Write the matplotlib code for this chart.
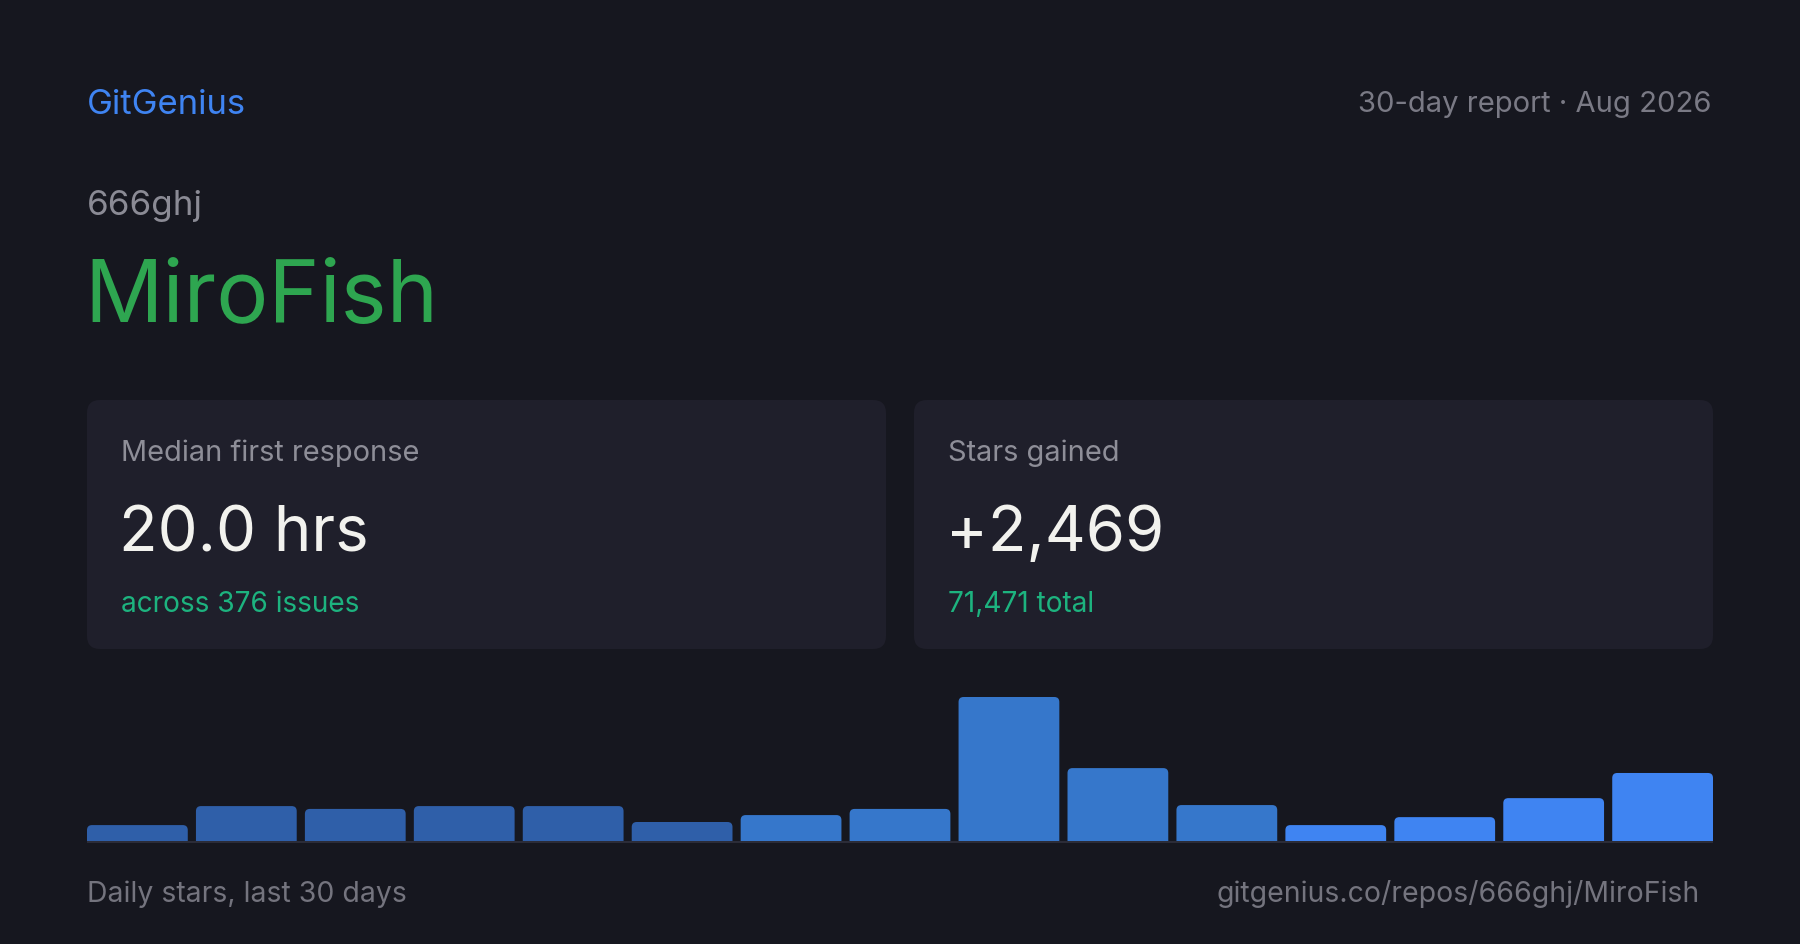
import matplotlib
matplotlib.use("Agg")
import matplotlib.pyplot as plt
from matplotlib.patches import FancyBboxPatch

# ---- data ----
brand = "GitGenius"
report_label = "30-day report · Aug 2026"
owner = "666ghj"
repo = "MiroFish"
card_titles = ["Median first response", "Stars gained"]
card_values = ["20.0 hrs", "+2,469"]
card_notes = ["across 376 issues", "71,471 total"]
daily_stars = [62, 136, 125, 136, 136, 74, 101, 125, 561, 284, 140, 62, 93, 167, 265]
footer_left = "Daily stars, last 30 days"
footer_right = "gitgenius.co/repos/666ghj/MiroFish"

BG = "#16171f"
CARD = "#1f1f2b"
W, H = 1800, 945
plt.rcParams['font.family'] = ['Inter', 'DejaVu Sans']

fig = plt.figure(figsize=(W / 100, H / 100), dpi=100, facecolor=BG)
ax0 = fig.add_axes([0, 0, 1, 1])
ax0.set_xlim(0, W)
ax0.set_ylim(H, 0)
ax0.axis('off')
ax0.set_facecolor(BG)

PT = 72 / 100  # px -> pt

# header
ax0.text(87, 114, brand, color="#3f84f2", fontsize=34.7 * PT, va='baseline', ha='left')
ax0.text(1712, 112, report_label, color="#7a7a85", fontsize=29.2 * PT, va='baseline', ha='right')
ax0.text(87, 215, owner, color="#8b8b95", fontsize=35 * PT, va='baseline', ha='left')
ax0.text(84, 322, repo, color="#2ea650", fontsize=87 * PT, va='baseline', ha='left')

# cards
card_x = [87, 914]
card_w = 799
card_top, card_h = 401, 249
for i in range(2):
    x0 = card_x[i]
    ax0.add_patch(FancyBboxPatch((x0 + 13, card_top + 13), card_w - 26, card_h - 26,
                                 boxstyle="round,pad=13", facecolor=CARD,
                                 edgecolor='none'))
    ax0.text(x0 + 34, 461, card_titles[i], color="#8e8e98", fontsize=29 * PT,
             va='baseline', ha='left')
    ax0.text(x0 + 32, 551, card_values[i], color="#f2f2ee", fontsize=63.5 * PT,
             va='baseline', ha='left')
    ax0.text(x0 + 34, 612, card_notes[i], color="#1db37f", fontsize=28 * PT,
             va='baseline', ha='left')

# baseline line
ax0.plot([87, 1713], [843, 843], color="#2b2c38", lw=2 * PT, solid_capstyle='butt')

# footer
ax0.text(87, 902, footer_left, color="#74747e", fontsize=28.4 * PT, va='baseline', ha='left')
ax0.text(1700, 902, footer_right, color="#74747e", fontsize=28.4 * PT, va='baseline', ha='right')

# bars
left, right, bottom, top = 87, 1713, 842, 698
axb = fig.add_axes([left / W, 1 - bottom / H, (right - left) / W, (bottom - top) / H])
axb.set_facecolor('none')
axb.axis('off')
n = len(daily_stars)
bw = 0.925
axb.set_xlim(-bw / 2, n - 1 + bw / 2)
ymax = max(daily_stars)
axb.set_ylim(0, ymax)

colors = ["#2f5fa9"] * 6 + ["#3677cb"] * 5 + ["#3f84f2"] * 4
bars = axb.bar(range(n), daily_stars, width=bw, color=colors)

# rounded top corners
px_x = (n - 1 + bw) / (right - left)
px_y = ymax / (bottom - top)
r_px = 5
for b, c in zip(bars, colors):
    x, w, h = b.get_x(), b.get_width(), b.get_height()
    b.set_visible(False)
    rx = r_px * px_x
    ext = r_px * px_y
    p = FancyBboxPatch((x + rx, -ext + r_px * px_y), w - 2 * rx, h + ext - 2 * r_px * px_y,
                       boxstyle=f"round,pad={rx},rounding_size={rx}",
                       mutation_aspect=px_y / px_x, facecolor=c, edgecolor='none')
    p.set_clip_on(True)
    axb.add_patch(p)

fig.savefig("out.png", dpi=100, facecolor=BG)
